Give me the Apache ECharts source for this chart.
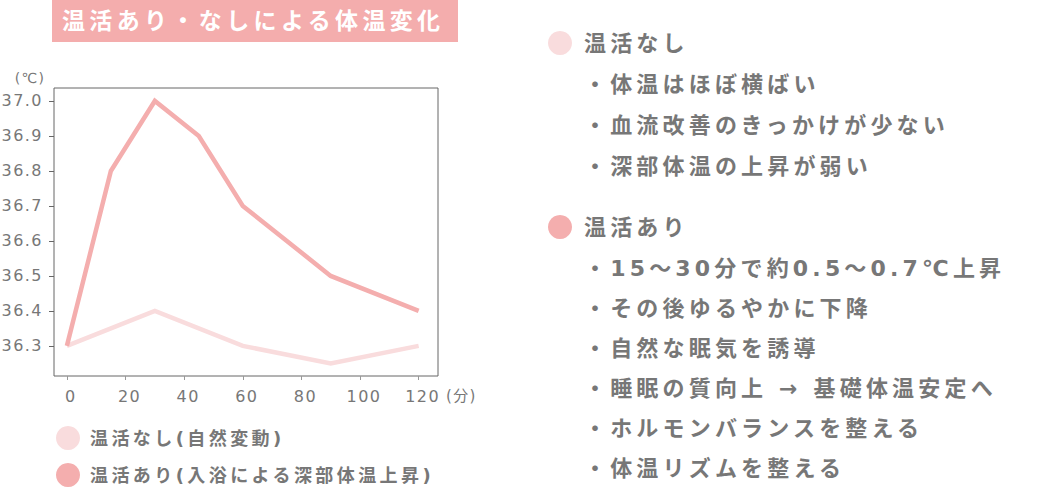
<!DOCTYPE html>
<html>
<head>
<meta charset="utf-8">
<script src="https://cdn.jsdelivr.net/npm/echarts@6/dist/echarts.min.js"></script>
<style>
    html, body { margin: 0; padding: 0; background: #fff; }
    #chart { width: 1038px; height: 487px; }
</style>
</head>
<body>
<div id="chart"></div>
<script>
    // 入浴あり・なしの体温 (℃)
    const bathTimes = [0, 15, 30, 45, 60, 90, 120];
    const bathTemps = [36.3, 36.8, 37.0, 36.9, 36.7, 36.5, 36.4];
    const noBathTimes = [0, 30, 60, 90, 120];
    const noBathTemps = [36.3, 36.4, 36.3, 36.25, 36.3];

    const xTicks = [0, 20, 40, 60, 80, 100, 120];
    const yTicks = [36.3, 36.4, 36.5, 36.6, 36.7, 36.8, 36.9, 37.0];

    const seriesNames = ['温活なし(自然変動)', '温活あり(入浴による深部体温上昇)'];
    const title = '温活あり・なしによる体温変化';
    const noBathHead = '温活なし';
    const noBathNotes = ['体温はほぼ横ばい', '血流改善のきっかけが少ない', '深部体温の上昇が弱い'];
    const bathHead = '温活あり';
    const bathNotes = ['15〜30分で約0.5〜0.7℃上昇', 'その後ゆるやかに下降', '自然な眠気を誘導',
        '睡眠の質向上 → 基礎体温安定へ', 'ホルモンバランスを整える', '体温リズムを整える'];

    const lightPink = '#f9dcdd';
    const pink = '#f4aeae';
    const gray = '#777';
    const fontFamily = '"DejaVu Sans", "Noto Sans CJK JP", sans-serif';

    const pairs = (xs, ys) => xs.map((x, i) => [x, ys[i]]);

    // 右側の説明文
    const textItem = (text, x, y, color, size) => ({
        type: 'text',
        x: x,
        y: y,
        style: {
            text: text,
            fill: color,
            fontSize: size,
            fontWeight: 'bold',
            fontFamily: fontFamily,
            verticalAlign: 'middle'
        }
    });

    const graphics = [
        { type: 'rect', shape: { x: 52, y: 0, width: 406, height: 42 }, style: { fill: '#f4adad' } },
        textItem(title, 62, 21, '#fff', 23),
        {
            type: 'text', x: 30, y: 78,
            style: { text: '(℃)', fill: gray, fontSize: 14, fontFamily: fontFamily, align: 'center', verticalAlign: 'middle' }
        },
        {
            type: 'text', x: 446, y: 396,
            style: { text: '(分)', fill: gray, fontSize: 15, fontFamily: fontFamily, verticalAlign: 'middle' }
        },
        { type: 'circle', shape: { cx: 560, cy: 43, r: 12 }, style: { fill: lightPink } },
        textItem(noBathHead, 584, 43, gray, 22),
        { type: 'circle', shape: { cx: 560, cy: 227, r: 12 }, style: { fill: pink } }
    ];
    noBathNotes.forEach((t, i) => graphics.push(textItem('・' + t, 584, 84 + i * 41, gray, 22)));
    graphics.push(textItem(bathHead, 584, 227, gray, 22));
    bathNotes.forEach((t, i) => graphics.push(textItem('・' + t, 584, 268 + i * 40, gray, 22)));

    const chart = echarts.init(document.getElementById('chart'), null, { renderer: 'svg' });

    // 元画像は字間が広い。大きい文字ほど広めにする
    chart.on('finished', () => {
        document.querySelectorAll('#chart text').forEach(el => {
            const size = parseFloat(getComputedStyle(el).fontSize) || 12;
            el.style.letterSpacing = size >= 18 ? '0.19em' : '0.09em';
        });
    });

    chart.setOption({
        animation: false,
        backgroundColor: '#fff',
        textStyle: { fontFamily: fontFamily },
        grid: {
            left: 54, top: 88, right: 600, bottom: 111,
            show: true, borderColor: '#666', borderWidth: 1
        },
        xAxis: {
            type: 'value',
            min: -4.4,
            max: 126.6,
            splitLine: { show: false },
            axisLine: { show: false, onZero: false },
            axisTick: { show: true, length: 4, customValues: xTicks, lineStyle: { color: '#999' } },
            axisLabel: {
                customValues: xTicks,
                color: gray, fontSize: 16, margin: 12,
                padding: [0, 0, 0, 8]
            }
        },
        yAxis: {
            type: 'value',
            min: 36.214,
            max: 37.037,
            splitLine: { show: false },
            axisLine: { show: false, onZero: false },
            axisTick: { show: true, length: 5, customValues: yTicks, lineStyle: { color: '#666' } },
            axisLabel: {
                customValues: yTicks,
                color: gray, fontSize: 16, margin: 11,
                formatter: v => v.toFixed(1)
            }
        },
        legend: {
            orient: 'vertical',
            left: 56,
            top: 426,
            height: 70,
            padding: 0,
            icon: 'circle',
            itemWidth: 24,
            itemHeight: 24,
            itemGap: 13,
            textStyle: { color: gray, fontSize: 18, fontWeight: 'bold', fontFamily: fontFamily, padding: [0, 0, 0, 5] },
            data: seriesNames
        },
        series: [
            {
                name: seriesNames[0],
                type: 'line',
                data: pairs(noBathTimes, noBathTemps),
                color: lightPink,
                showSymbol: false,
                lineStyle: { width: 4.5, color: lightPink, cap: 'butt', join: 'miter' }
            },
            {
                name: seriesNames[1],
                type: 'line',
                data: pairs(bathTimes, bathTemps),
                color: pink,
                showSymbol: false,
                lineStyle: { width: 4.5, color: pink, cap: 'butt', join: 'miter' }
            }
        ],
        graphic: graphics
    });
</script>
</body>
</html>
